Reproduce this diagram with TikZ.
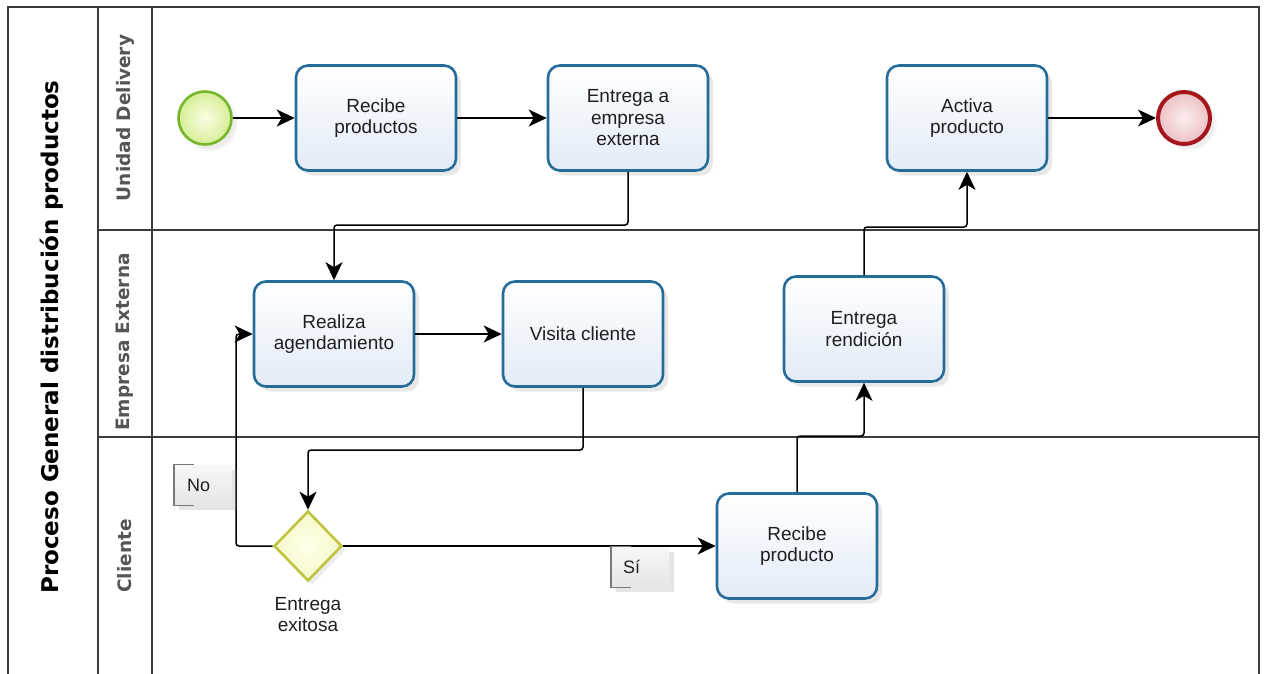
\documentclass[tikz,border=0pt]{standalone}
\usepackage{fontspec}
\setmainfont{Liberation Sans}
\newfontfamily\headfont{DejaVu Sans}
\usetikzlibrary{arrows.meta,shapes.geometric,shadows}

\definecolor{frameline}{RGB}{60,60,60}
\definecolor{taskline}{RGB}{38,108,152}
\definecolor{taskfill}{RGB}{226,235,248}
\definecolor{startline}{RGB}{118,182,42}
\definecolor{startin}{RGB}{250,253,228}
\definecolor{startout}{RGB}{214,238,150}
\definecolor{endline}{RGB}{165,22,28}
\definecolor{endin}{RGB}{252,238,238}
\definecolor{endout}{RGB}{236,192,196}
\definecolor{gateline}{RGB}{190,196,60}
\definecolor{gatein}{RGB}{255,255,235}
\definecolor{gateout}{RGB}{246,248,200}
\definecolor{lanetext}{RGB}{85,85,85}
\definecolor{flagedge}{RGB}{120,120,120}

\begin{document}
\begin{tikzpicture}[x=1pt,y=-1pt,
  frame/.style={draw=frameline,line width=1.6pt},
  divider/.style={draw=frameline,line width=1.2pt},
  task/.style={rectangle,rounded corners=12pt,draw=taskline,line width=2.6pt,
    top color=white,bottom color=taskfill,
    minimum width=160pt,minimum height=105pt,align=center,
    font=\fontsize{19}{21.5}\selectfont,text=black!88,
    drop shadow={opacity=0.18,shadow xshift=5pt,shadow yshift=-5pt}},
  startev/.style={circle,draw=startline,line width=2.6pt,inner color=startin,outer color=startout,
    minimum size=53pt,inner sep=0pt,
    circular drop shadow={opacity=0.15,shadow xshift=4pt,shadow yshift=-4pt}},
  endev/.style={circle,draw=endline,line width=4pt,inner color=endin,outer color=endout,
    minimum size=52pt,inner sep=0pt,
    circular drop shadow={opacity=0.15,shadow xshift=4pt,shadow yshift=-4pt}},
  gate/.style={diamond,draw=gateline,line width=2.6pt,inner color=gatein,outer color=gateout,
    minimum width=68pt,minimum height=70pt,inner sep=0pt,
    drop shadow={opacity=0.15,shadow xshift=4pt,shadow yshift=-4pt}},
  flag/.style={rectangle,top color=gray!6,bottom color=gray!20,minimum height=40pt,
    inner xsep=0pt,inner ysep=0pt,text width=58pt,align=left,
    font=\fontsize{18}{20}\selectfont,text=black!88,
    drop shadow={opacity=0.2,shadow xshift=5pt,shadow yshift=-5pt}},
  flagline/.style={draw=flagedge,line width=1.2pt},
  flow/.style={draw=black,line width=1.5pt,rounded corners=3pt,
    -{Stealth[length=18pt,width=17pt,inset=5pt]}},
  lanelabel/.style={rotate=90,font=\headfont\bfseries\fontsize{18.5}{20}\selectfont,text=lanetext},
  poollabel/.style={rotate=90,font=\headfont\bfseries\fontsize{23}{26}\selectfont,text=black}
]
\useasboundingbox (0,0) rectangle (1264,673);
\fill[white] (0,0) rectangle (1264,673);
\clip (0,0) rectangle (1264,673);

% pool frame, header column and lane dividers
\draw[frame] (8,700) -- (8,7) -- (1259,7) -- (1259,700);
\draw[divider] (98,7) -- (98,700);
\draw[divider] (152,7) -- (152,700);
\draw[divider] (98,230) -- (1259,230);
\draw[divider] (98,437) -- (1259,437);

\node[poollabel] (pool) at (52,337) {Proceso General distribución productos};
\node[lanelabel] (lane1) at (125,118) {Unidad Delivery};
\node[lanelabel] (lane2) at (125,342) {Empresa Externa};
\node[lanelabel] (lane3) at (125,556) {Cliente};

% bend levels for the orthogonal connectors
\coordinate (bendA) at (0,225);
\coordinate (bendB) at (0,450);
\coordinate (bendC) at (0,436);
\coordinate (bendD) at (0,227);
\coordinate (backX) at (236,0);

% lane: Unidad Delivery
\node[startev] (start) at (205,118) {};
\node[task] (recibe) at (376,118) {Recibe\\productos};
\node[task] (entrega) at (628,118) {Entrega a\\empresa\\externa};
\node[task] (activa) at (967,118) {Activa\\producto};
\node[endev] (fin) at (1184,118) {};

% lane: Empresa Externa
\node[task] (agenda) at (334,334) {Realiza\\agendamiento};
\node[task] (visita) at (583,334) {Visita cliente};
\node[task] (rendicion) at (864,329) {Entrega\\rendición};

% lane: Cliente
\node[gate] (gw) at (308,546) {};
\node[font=\fontsize{19}{21}\selectfont,text=black!88,align=center] (gwlabel) at (308,615) {Entrega\\exitosa};
\node[task] (recprod) at (797,546) {Recibe\\producto};

% sequence flows
\draw[flow] (start) -- (recibe);
\draw[flow] (recibe) -- (entrega);
\draw[flow] (entrega.south) -- (entrega.south |- bendA) -| (agenda.north);
\draw[flow] (agenda) -- (visita);
\draw[flow] (visita.south) -- (visita.south |- bendB) -| (gw.north);
\draw[flow] (gw.west) -- (gw.west -| backX) |- (agenda.west);
\draw[flow] (gw.east) -- (recprod.west);
\draw[flow] (recprod.north) -- (recprod.north |- bendC) -| (rendicion.south);
\draw[flow] (rendicion.north) -- (rendicion.north |- bendD) -| (activa.south);
\draw[flow] (activa) -- (fin);

% gateway outcome labels
\node[flag,anchor=west] (no) at (174,485) {\hspace*{13pt}No};
\draw[flagline] ([xshift=20pt]no.north west) -- (no.north west) -- (no.south west) -- ([xshift=20pt]no.south west);
\node[flag,anchor=west] (si) at (611,567) {\hspace*{12pt}Sí};
\draw[flagline] ([xshift=20pt]si.north west) -- (si.north west) -- (si.south west) -- ([xshift=20pt]si.south west);
\end{tikzpicture}
\end{document}
